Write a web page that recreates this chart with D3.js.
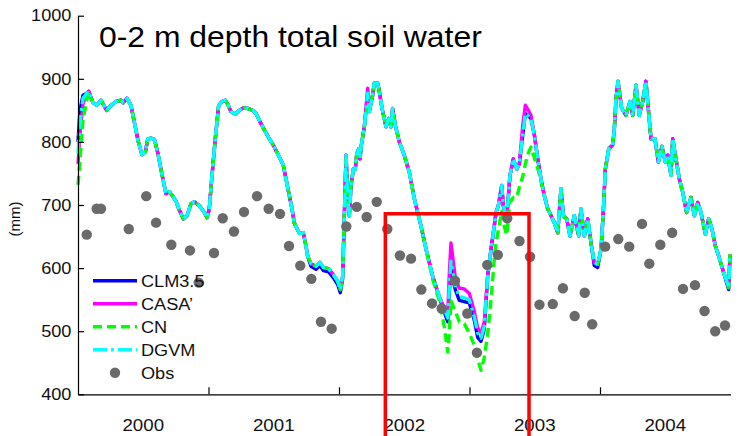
<!DOCTYPE html>
<html><head><meta charset="utf-8">
<script src="https://cdn.jsdelivr.net/npm/d3@7"></script>
<style>
html,body{margin:0;padding:0;background:#fff;}
svg{display:block;font-family:"Liberation Sans",Arial,Helvetica,sans-serif;}
</style></head><body>
<svg id="chart" width="743" height="436"></svg>
<script>
// Sampling times of the simulated series (decimal years)
const years = [2000.000,2000.015,2000.038,2000.067,2000.082,2000.113,2000.143,2000.176,2000.220,2000.253,
2000.291,2000.330,2000.347,2000.375,2000.406,2000.431,2000.460,2000.490,2000.516,2000.534,
2000.559,2000.585,2000.611,2000.644,2000.674,2000.700,2000.726,2000.751,2000.776,2000.807,
2000.835,2000.866,2000.891,2000.930,2000.968,2000.989,2001.006,2001.027,2001.052,2001.078,
2001.103,2001.129,2001.147,2001.172,2001.205,2001.236,2001.267,2001.300,2001.339,2001.364,
2001.395,2001.428,2001.466,2001.504,2001.543,2001.573,2001.594,2001.619,2001.640,2001.657,
2001.696,2001.726,2001.747,2001.760,2001.785,2001.824,2001.854,2001.880,2001.921,2001.956,
2001.990,2002.010,2002.028,2002.041,2002.054,2002.067,2002.079,2002.092,2002.110,2002.125,
2002.136,2002.151,2002.161,2002.169,2002.194,2002.220,2002.232,2002.258,2002.270,2002.297,
2002.309,2002.330,2002.347,2002.360,2002.381,2002.398,2002.411,2002.431,2002.462,2002.500,
2002.539,2002.577,2002.628,2002.667,2002.718,2002.769,2002.807,2002.833,2002.845,2002.858,
2002.891,2002.922,2002.960,2002.998,2003.036,2003.063,2003.088,2003.113,2003.139,2003.165,
2003.190,2003.203,2003.221,2003.247,2003.259,2003.285,2003.310,2003.336,2003.362,2003.382,
2003.408,2003.428,2003.446,2003.471,2003.497,2003.523,2003.548,2003.573,2003.599,2003.625,
2003.650,2003.676,2003.701,2003.719,2003.745,2003.770,2003.803,2003.837,2003.854,2003.880,
2003.906,2003.931,2003.956,2003.982,2004.008,2004.025,2004.041,2004.067,2004.097,2004.110,
2004.123,2004.138,2004.166,2004.199,2004.230,2004.251,2004.276,2004.301,2004.327,2004.352,
2004.372,2004.391,2004.421,2004.447,2004.475,2004.500,2004.519,2004.544,2004.557,2004.582,
2004.608,2004.634,2004.664,2004.697,2004.723,2004.749,2004.774,2004.807,2004.833,2004.858,
2004.884,2004.910,2004.940,2004.966,2004.986,2004.996];

// Total soil water, 0-2 m (mm), per model
const clm35 = [800,850,874,877,880,863,858,866,850,858,
864,866,862,869,858,832,802,780,784,804,
806,804,783,748,718,721,714,706,692,678,
683,702,705,699,688,680,694,747,805,858,
864,866,860,848,844,850,854,853,850,845,
832,819,805,792,776,763,741,715,694,672,
655,656,635,619,603,598,604,596,594,585,
574,561,583,683,779,710,683,731,757,757,
781,789,773,792,824,877,848,874,893,893,
880,853,837,824,837,824,853,827,800,779,
752,710,667,630,587,553,530,515,560,600,
566,549,547,545,518,490,484,503,587,630,
667,688,699,731,699,678,747,773,757,765,
811,845,842,837,811,773,741,715,694,683,
672,656,726,683,678,651,683,651,694,651,
678,640,604,601,630,688,757,789,795,821,
869,896,853,842,864,842,890,842,864,896,
848,805,805,768,793,768,779,747,805,773,
741,720,688,712,683,704,688,654,678,662,
635,619,598,580,566,620];

const casa = [765,812,860,877,880,863,858,866,850,858,
864,866,862,869,858,832,802,780,784,804,
806,804,783,748,718,721,714,706,692,678,
683,702,705,699,688,680,694,747,805,858,
864,866,860,848,844,850,854,853,850,845,
832,819,805,792,776,763,741,715,694,672,
655,656,635,619,607,603,609,601,599,590,
579,566,587,683,779,710,683,731,757,757,
781,789,773,792,824,885,848,874,893,893,
880,853,837,824,837,824,853,827,800,779,
752,710,667,630,587,555,536,526,590,640,
585,568,567,560,532,505,497,514,587,630,
667,688,699,731,699,678,747,773,757,765,
826,858,852,842,811,773,741,715,694,683,
672,656,726,683,678,651,683,651,694,651,
678,640,609,606,630,688,757,789,795,821,
869,896,853,842,864,842,890,842,864,896,
848,805,805,768,793,768,779,747,805,773,
741,720,688,712,683,704,688,654,678,662,
635,619,598,582,569,622];

const cn = [732,770,835,866,878,863,858,866,850,858,
864,866,862,869,858,832,802,780,784,804,
806,804,783,748,718,721,714,706,692,678,
683,702,705,699,688,680,694,747,805,858,
864,866,860,848,844,850,854,853,850,845,
832,819,805,792,776,763,741,715,694,672,
655,656,635,619,607,603,609,601,599,590,
579,566,587,683,779,710,683,731,757,757,
781,789,773,792,824,862,848,874,893,893,
880,853,837,824,837,824,853,827,800,779,
752,710,667,630,582,548,507,467,495,548,
532,515,512,497,478,455,438,458,495,550,
614,640,660,690,672,652,705,712,712,728,
745,765,780,792,775,758,738,715,694,683,
672,656,726,683,678,651,683,651,694,651,
678,640,609,606,630,688,757,789,795,821,
869,896,853,842,864,842,890,842,864,896,
848,805,805,768,793,768,779,747,805,773,
741,720,688,712,683,704,688,654,678,662,
635,619,598,582,569,622];

const dgvm = [781,829,869,877,880,863,858,866,850,858,
864,866,862,869,858,832,802,780,784,804,
806,804,783,748,718,721,714,706,692,678,
683,702,705,699,688,680,694,747,805,858,
864,866,860,848,844,850,854,853,850,845,
832,819,805,792,776,763,741,715,694,672,
655,656,635,619,607,603,609,601,599,590,
579,566,587,683,779,710,683,731,757,757,
781,789,773,792,824,877,848,874,893,893,
880,853,837,824,837,824,853,827,800,779,
752,710,667,630,587,555,534,521,566,611,
571,555,553,550,523,497,489,507,587,630,
667,688,699,731,699,678,747,773,757,765,
811,845,842,837,811,773,741,715,694,683,
672,656,726,683,678,651,683,651,694,651,
678,640,609,606,630,688,757,789,795,821,
869,896,853,842,864,842,890,842,864,896,
848,805,805,768,793,768,779,747,805,773,
741,720,688,712,683,704,688,654,678,662,
635,619,598,582,569,622];

// Observations
const obsYears = [2000.067,2000.143,2000.176,2000.389,2000.523,2000.598,2000.715,2000.858,2000.925,2001.042,
2001.109,2001.195,2001.272,2001.372,2001.461,2001.548,2001.617,2001.703,2001.788,2001.862,
2001.944,2002.056,2002.136,2002.212,2002.289,2002.370,2002.467,2002.552,2002.631,2002.713,
2002.787,2002.889,2002.983,2003.057,2003.136,2003.217,2003.289,2003.383,2003.464,2003.536,
2003.638,2003.716,2003.806,2003.883,2003.940,2004.040,2004.140,2004.224,2004.322,2004.378,
2004.462,2004.553,2004.636,2004.728,2004.801,2004.883,2004.958];
const obsValues = [653,694,694,662,714,672,637,628,577,624,
679,658,689,714,694,686,635,604,583,515,
504,666,697,681,705,662,620,615,566,544,
536,580,528,466,605,621,679,643,618,542,
543,568,524,561,511,634,646,634,670,607,
637,656,567,573,532,500,509];

const seriesNames = ["CLM3.5", "CASA\u2019", "CN", "DGVM"];
const seriesValues = [clm35, casa, cn, dgvm];
const yTicks = [400, 500, 600, 700, 800, 900, 1000];
const yearTicks = [2001, 2002, 2003, 2004];
const yearLabels = [2000, 2001, 2002, 2003, 2004];
const highlight = [2002.355, 2003.456, 686];   // start, end, top value

const svg = d3.select("#chart");
const x = d3.scaleLinear().domain([2000, 2005]).range([78, 730.5]);
const y = d3.scaleLinear().domain([400, 1000]).range([394.3, 15.7]);
const SX = 1.1;

const colors = ["#0000ff", "#ff00ff", "#00ff00", "#00ffff"];
const dashes = [null, null, "9,5", "14,4,3,4"];

// Model lines
const line = d3.line().x((d, i) => x(years[i])).y(d => y(d));
seriesValues.forEach((vals, k) => {
  svg.append("path").datum(vals)
    .attr("d", line)
    .attr("fill", "none")
    .attr("stroke", colors[k])
    .attr("stroke-width", 3.4)
    .attr("stroke-linejoin", "round")
    .attr("stroke-dasharray", dashes[k]);
});

// Observation markers
svg.append("g").selectAll("circle").data(obsValues).join("circle")
  .attr("cx", (d, i) => x(obsYears[i]))
  .attr("cy", d => y(d))
  .attr("r", 5.2)
  .attr("fill", "#6a6a6a");

// Axes
const yAxis = d3.axisLeft(y).tickValues(yTicks).tickFormat(d3.format("d"))
  .tickSize(-6).tickSizeOuter(0).tickPadding(6);
const gy = svg.append("g").attr("transform", "translate(78,0)").call(yAxis);
gy.selectAll("text").attr("font-size", 16.5).attr("fill", "#111")
  .attr("font-family", "Liberation Sans, Arial, sans-serif")
  .attr("transform", `scale(${SX},1)`);

const xAxis = d3.axisBottom(x).tickValues(yearTicks).tickSize(-7).tickSizeOuter(0).tickFormat("");
svg.append("g").attr("transform", "translate(0,394.3)").call(xAxis);

const xl = svg.append("g").attr("transform", "translate(0,394.3)");
xl.selectAll("text").data(yearLabels).join("text")
  .attr("transform", d => `translate(${x(d + 0.5)},37) scale(${SX},1)`)
  .attr("text-anchor", "middle")
  .attr("font-size", 17)
  .attr("fill", "#111")
  .text(d => d);

svg.selectAll(".domain, .tick line").attr("stroke", "#000").attr("stroke-width", 1.2);

// Axis title
svg.append("text")
  .attr("transform", "translate(20,219) rotate(-90)")
  .attr("text-anchor", "middle")
  .attr("font-size", 15)
  .attr("fill", "#111")
  .text("(mm)");

// Chart title
svg.append("text")
  .attr("transform", `translate(99,46.5) scale(${SX},1)`)
  .attr("font-size", 29)
  .attr("fill", "#000")
  .text("0-2 m depth total soil water");

// Legend
const lg = svg.append("g");
seriesNames.forEach((name, k) => {
  const ry = 280.7 + k * 23;
  lg.append("line")
    .attr("x1", 93).attr("x2", 137).attr("y1", ry).attr("y2", ry)
    .attr("stroke", colors[k]).attr("stroke-width", 3.5)
    .attr("stroke-dasharray", dashes[k]);
  lg.append("text")
    .attr("transform", `translate(141,${ry + 6}) scale(${SX},1)`)
    .attr("font-size", 16.5).attr("fill", "#111")
    .text(name);
});
const oy = 280.7 + 4 * 23;
lg.append("circle").attr("cx", 115).attr("cy", oy).attr("r", 5.2).attr("fill", "#6a6a6a");
lg.append("text")
  .attr("transform", `translate(141,${oy + 6}) scale(${SX},1)`)
  .attr("font-size", 16.5).attr("fill", "#111")
  .text("Obs");

// Highlighted period
svg.append("path")
  .attr("d", `M${x(highlight[0])},450 V${y(highlight[2])} H${x(highlight[1])} V450`)
  .attr("fill", "none")
  .attr("stroke", "#ff0000")
  .attr("stroke-width", 3.5);
</script>
</body></html>
